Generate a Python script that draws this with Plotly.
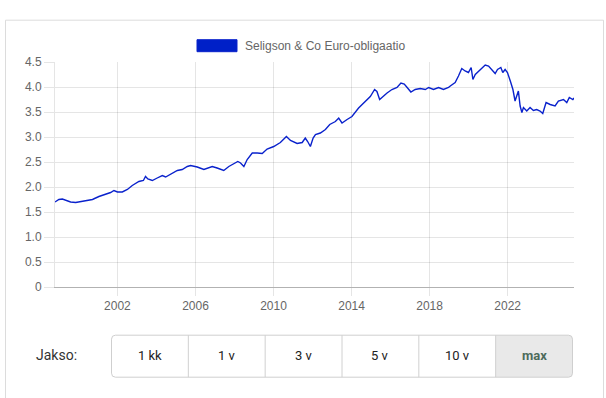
import datetime as dt
import plotly.graph_objects as go

# ---- data (time as decimal year, value) ----
years = [
    1998.80, 1999.00, 1999.18, 1999.35, 1999.60, 1999.86, 2000.12, 2000.37, 2000.72, 2001.05,
    2001.40, 2001.65, 2001.82, 2002.00, 2002.25, 2002.51, 2002.76, 2003.10, 2003.33, 2003.44,
    2003.56, 2003.79, 2004.04, 2004.30, 2004.47, 2004.72, 2005.07, 2005.32, 2005.58, 2005.75,
    2006.09, 2006.43, 2006.86, 2007.11, 2007.45, 2007.71, 2007.96, 2008.17, 2008.31, 2008.48,
    2008.65, 2008.91, 2009.16, 2009.42, 2009.67, 2010.01, 2010.35, 2010.66, 2010.87, 2011.21,
    2011.47, 2011.63, 2011.75, 2011.89, 2012.03, 2012.15, 2012.40, 2012.66, 2012.88, 2013.17,
    2013.34, 2013.51, 2013.77, 2014.02, 2014.36, 2014.71, 2014.96, 2015.18, 2015.30, 2015.44,
    2015.61, 2015.82, 2016.07, 2016.33, 2016.53, 2016.70, 2016.87, 2017.04, 2017.26, 2017.52,
    2017.78, 2017.95, 2018.20, 2018.46, 2018.71, 2018.97, 2019.06, 2019.31, 2019.48, 2019.65,
    2019.82, 2019.99, 2020.13, 2020.22, 2020.34, 2020.59, 2020.85, 2021.02, 2021.19, 2021.36,
    2021.48, 2021.65, 2021.75, 2021.87, 2021.99, 2022.09, 2022.16, 2022.27, 2022.38, 2022.55,
    2022.64, 2022.73, 2022.81, 2022.98, 2023.15, 2023.32, 2023.49, 2023.66, 2023.80, 2023.97,
    2024.18, 2024.43, 2024.60, 2024.86, 2025.03, 2025.16, 2025.34, 2025.40,
]
values = [
    1.70, 1.75, 1.76, 1.73, 1.70, 1.69, 1.71, 1.73, 1.75, 1.81,
    1.85, 1.89, 1.93, 1.90, 1.90, 1.95, 2.03, 2.11, 2.13, 2.21,
    2.16, 2.13, 2.18, 2.23, 2.20, 2.25, 2.33, 2.35, 2.41, 2.43,
    2.40, 2.35, 2.41, 2.38, 2.33, 2.41, 2.47, 2.51, 2.48, 2.41,
    2.55, 2.68, 2.68, 2.67, 2.76, 2.81, 2.89, 3.01, 2.93, 2.87,
    2.89, 2.98, 2.91, 2.81, 2.98, 3.05, 3.08, 3.15, 3.25, 3.31,
    3.38, 3.28, 3.35, 3.41, 3.58, 3.71, 3.81, 3.95, 3.91, 3.75,
    3.81, 3.88, 3.95, 3.99, 4.08, 4.06, 3.98, 3.90, 3.95, 3.97,
    3.95, 3.99, 3.95, 3.99, 3.95, 3.99, 4.02, 4.09, 4.22, 4.37,
    4.32, 4.29, 4.39, 4.15, 4.25, 4.35, 4.44, 4.42, 4.35, 4.27,
    4.35, 4.39, 4.29, 4.35, 4.29, 4.19, 4.09, 3.95, 3.72, 3.92,
    3.62, 3.49, 3.59, 3.52, 3.59, 3.53, 3.55, 3.52, 3.47, 3.69,
    3.65, 3.62, 3.72, 3.75, 3.69, 3.79, 3.75, 3.78,
]
series_name = "Seligson & Co Euro-obligaatio"
y_tick_vals = [0, 0.5, 1.0, 1.5, 2.0, 2.5, 3.0, 3.5, 4.0, 4.5]
y_tick_text = ["0", "0.5", "1.0", "1.5", "2.0", "2.5", "3.0", "3.5", "4.0", "4.5"]
x_tick_years = [2002, 2006, 2010, 2014, 2018, 2022]
x_tick_text = ["2002", "2006", "2010", "2014", "2018", "2022"]
period_label = "Jakso:"
period_buttons = ["1 kk", "1 v", "3 v", "5 v", "10 v", "max"]
active_button = "max"


def to_date(y):
    yi = int(y)
    start = dt.datetime(yi, 1, 1)
    end = dt.datetime(yi + 1, 1, 1)
    return start + (end - start) * (y - yi)


dates = [to_date(y) for y in years]
x_tick_vals = [dt.datetime(y, 1, 1) for y in x_tick_years]

# ---- layout geometry (pixels) ----
W, H = 606, 398
PL, PR, PT, PB = 55, 574, 62.3, 287.3
LINE_COLOR = "#0a22cc"
GRID = "rgba(0,0,0,0.1)"
TEXT = "#666666"


def px(x):
    return (x - PL) / (PR - PL)


def py(y):
    return (PB - y) / (PB - PT)


fig = go.Figure()
fig.add_trace(go.Scatter(
    x=dates, y=values, mode="lines", name=series_name,
    line=dict(color=LINE_COLOR, width=1.4), showlegend=False,
))

shapes = []
annotations = []

# card border
shapes.append(dict(type="rect", xref="paper", yref="paper",
                   x0=px(5.5), x1=px(603.5), y0=py(420), y1=py(20.5),
                   line=dict(color="#dcdcdc", width=1), fillcolor="rgba(0,0,0,0)", layer="below"))

# legend swatch + label
shapes.append(dict(type="rect", xref="paper", yref="paper",
                   x0=px(197), x1=px(237), y0=py(52), y1=py(40),
                   line=dict(color=LINE_COLOR, width=1), fillcolor="#0020c8"))
annotations.append(dict(xref="paper", yref="paper", x=px(243), y=py(46), text=series_name,
                        showarrow=False, xanchor="left", yanchor="middle",
                        font=dict(family="Liberation Sans, Arial", size=12, color=TEXT)))

# period selector
annotations.append(dict(xref="paper", yref="paper", x=px(56), y=py(355.5), text=period_label,
                        showarrow=False, xanchor="center", yanchor="middle",
                        font=dict(family="Roboto", size=14, color="#333333")))
bx0, bx1, by0, by1 = 111.5, 572.5, 335.5, 377.5
bw = (bx1 - bx0) / len(period_buttons)
for i, lab in enumerate(period_buttons):
    x0 = bx0 + i * bw
    x1 = x0 + bw
    if lab == active_button:
        shapes.append(dict(type="path", xref="paper", yref="paper",
                           path=f"M {px(x0)},{py(by0)} L {px(x1-4)},{py(by0)} "
                                f"Q {px(x1)},{py(by0)} {px(x1)},{py(by0+4)} L {px(x1)},{py(by1-4)} "
                                f"Q {px(x1)},{py(by1)} {px(x1-4)},{py(by1)} L {px(x0)},{py(by1)} Z",
                           fillcolor="#e9e9e9", line=dict(width=0), layer="below"))
        font = dict(family="Roboto", size=13, color="#4d6b5c", weight="bold")
    else:
        font = dict(family="Roboto", size=13, color="#222222")
    annotations.append(dict(xref="paper", yref="paper", x=px((x0 + x1) / 2), y=py(356),
                            text=lab, showarrow=False, xanchor="center", yanchor="middle",
                            font=font))
    if i > 0:
        shapes.append(dict(type="line", xref="paper", yref="paper",
                           x0=px(x0), x1=px(x0), y0=py(by0), y1=py(by1),
                           line=dict(color="#d0d0d0", width=1)))
# rounded outer box
r = 4
shapes.append(dict(type="path", xref="paper", yref="paper",
                   path=f"M {px(bx0+r)},{py(by0)} L {px(bx1-r)},{py(by0)} "
                        f"Q {px(bx1)},{py(by0)} {px(bx1)},{py(by0+r)} L {px(bx1)},{py(by1-r)} "
                        f"Q {px(bx1)},{py(by1)} {px(bx1-r)},{py(by1)} L {px(bx0+r)},{py(by1)} "
                        f"Q {px(bx0)},{py(by1)} {px(bx0)},{py(by1-r)} L {px(bx0)},{py(by0+r)} "
                        f"Q {px(bx0)},{py(by0)} {px(bx0+r)},{py(by0)} Z",
                   line=dict(color="#cfcfcf", width=1), fillcolor="rgba(0,0,0,0)"))

fig.update_layout(
    width=W, height=H,
    margin=dict(l=PL, r=W - PR, t=PT, b=H - PB),
    paper_bgcolor="white", plot_bgcolor="white",
    shapes=shapes, annotations=annotations,
    font=dict(family="Liberation Sans, Arial", size=12, color=TEXT),
    xaxis=dict(
        type="date", range=[dates[0], dates[-1]],
        tickvals=x_tick_vals, ticktext=x_tick_text,
        showgrid=True, gridcolor=GRID, gridwidth=1,
        ticks="outside", ticklen=8, tickcolor=GRID,
        showline=True, linecolor="rgba(0,0,0,0.3)", linewidth=1,
        tickfont=dict(size=12, color=TEXT), zeroline=False,
    ),
    yaxis=dict(
        range=[0, 4.5], tickvals=y_tick_vals, ticktext=y_tick_text,
        showgrid=True, gridcolor=GRID, gridwidth=1,
        ticks="outside", ticklen=10, tickcolor=GRID,
        showline=True, linecolor=GRID, linewidth=1,
        tickfont=dict(size=12, color=TEXT), zeroline=False,
    ),
)

fig.write_html("out.html", config={"displayModeBar": False},
               post_script="document.body.style.margin='0';")
